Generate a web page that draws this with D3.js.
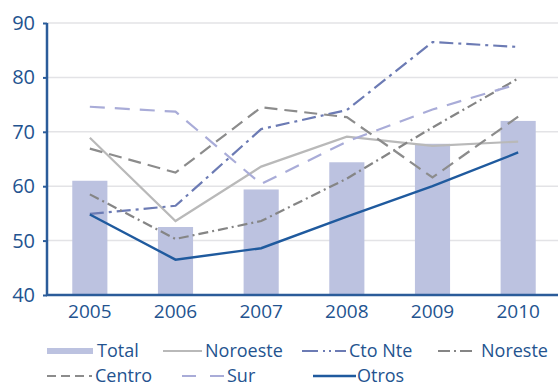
<!DOCTYPE html>
<html><head><meta charset="utf-8">
<script src="https://cdn.jsdelivr.net/npm/d3@7"></script>
<style>
body{margin:0;background:#fff;}
text{font-family:"Open Sans",sans-serif;fill:#23538f;}
</style></head>
<body><svg id="c" width="558" height="387"></svg>
<script>
const years = ["2005","2006","2007","2008","2009","2010"];
const yTicks = [40,50,60,70,80,90];
const total    = [61.0, 52.5, 59.4, 64.4, 67.8, 72.0];
const noroeste = [68.9, 53.6, 63.6, 69.1, 67.4, 68.2];
const ctoNte   = [54.9, 56.4, 70.5, 74.0, 86.5, 85.6];
const noreste  = [58.5, 50.3, 53.6, 61.4, 70.8, 79.8];
const centro   = [66.9, 62.5, 74.5, 72.7, 61.6, 72.8];
const sur      = [74.6, 73.7, 60.4, 68.2, 74.1, 78.8];
const otros    = [54.8, 46.5, 48.6, 54.4, 60.0, 66.2];

const series = [
  {name:"Noroeste", values:noroeste, color:"#b9b9b9", dash:null, w:2.2},
  {name:"Cto Nte", values:ctoNte, color:"#6c7bb4", dash:"14,5,3,5", w:2.2},
  {name:"Noreste", values:noreste, color:"#858585", dash:"10,4,2,4", w:2.2},
  {name:"Centro", values:centro, color:"#8c8c8c", dash:"13,7", w:2.2},
  {name:"Sur", values:sur, color:"#a9acd8", dash:"15,10", w:2.2},
  {name:"Otros", values:otros, color:"#1f5a9e", dash:null, w:2.4}
];

const svg = d3.select("#c");
const x = d3.scaleBand().domain(years).range([47,561]).paddingInner(0.59).paddingOuter(0.295);
const y = d3.scaleLinear().domain([40,90]).range([295,23]);
const cx = d => x(d) + x.bandwidth()/2;

// grid
svg.append("g").selectAll("line").data(yTicks.slice(1)).join("line")
  .attr("x1",47).attr("x2",558).attr("y1",d=>y(d)).attr("y2",d=>y(d))
  .attr("stroke","#e3e3e6").attr("stroke-width",1.5);

// bars
svg.append("g").selectAll("rect").data(years).join("rect")
  .attr("x",d=>x(d)).attr("width",x.bandwidth())
  .attr("y",(d,i)=>y(total[i])).attr("height",(d,i)=>y(40)-y(total[i]))
  .attr("fill","#bcc2e0");

// lines
const line = d3.line().x((v,i)=>cx(years[i])).y(v=>y(v));
series.forEach(s=>{
  svg.append("path").attr("d",line(s.values)).attr("fill","none")
    .attr("stroke",s.color).attr("stroke-width",s.w)
    .attr("stroke-dasharray",s.dash).attr("stroke-linejoin","miter");
});

// axes
const yAxis = d3.axisLeft(y).tickValues(yTicks).tickSize(4).tickPadding(8);
const ga = svg.append("g").attr("transform","translate(47,0)").call(yAxis);
ga.select(".domain").remove();
ga.selectAll(".tick line").attr("stroke","#2b5c9a").attr("stroke-width",2);
ga.selectAll("text").attr("font-size",20).style("font-family","'Open Sans',sans-serif").attr("fill","#23538f");
svg.append("line").attr("x1",47).attr("x2",47).attr("y1",y(90)).attr("y2",y(40)+1)
  .attr("stroke","#2b5c9a").attr("stroke-width",2.5);

const xAxis = d3.axisBottom(x).tickSize(0).tickPadding(10);
const gx = svg.append("g").attr("transform","translate(0,295)").call(xAxis);
gx.select(".domain").remove();
gx.selectAll("text").attr("font-size",19).style("font-family","'Open Sans',sans-serif").attr("fill","#23538f");
svg.append("line").attr("x1",46).attr("x2",558).attr("y1",295).attr("y2",295)
  .attr("stroke","#2b5c9a").attr("stroke-width",2.5);

// legend
const legend = [
  {name:"Total", x1:47, x2:93, tx:97, y:351, type:"bar"},
  {name:"Noroeste", x1:163, x2:202, tx:205, y:351, s:0},
  {name:"Cto Nte", x1:302, x2:346, tx:349, y:351, s:1},
  {name:"Noreste", x1:438, x2:474, tx:481, y:351, s:2},
  {name:"Centro", x1:47, x2:92, tx:95, y:376, s:3},
  {name:"Sur", x1:182, x2:226, tx:227, y:376, s:4},
  {name:"Otros", x1:313, x2:356, tx:357, y:376, s:5}
];
const lg = svg.append("g");
legend.forEach(l=>{
  if(l.type==="bar"){
    lg.append("line").attr("x1",l.x1).attr("x2",l.x2).attr("y1",l.y).attr("y2",l.y)
      .attr("stroke","#bcc2e0").attr("stroke-width",6);
  } else {
    const s = series[l.s];
    let dash = s.dash;
    if(s.name==="Centro") dash="9,5";
    if(s.name==="Sur") dash="14,14";
    if(s.name==="Cto Nte") dash="16,5,2,4,2,4";
    if(s.name==="Noreste") dash="12,4,2,4";
    lg.append("line").attr("x1",l.x1).attr("x2",l.x2).attr("y1",l.y).attr("y2",l.y)
      .attr("stroke",s.color).attr("stroke-width",s.w).attr("stroke-dasharray",dash);
  }
  lg.append("text").attr("x",l.tx).attr("y",l.y).attr("dy","0.35em")
    .attr("font-size",18).text(l.name);
});
</script></body></html>
